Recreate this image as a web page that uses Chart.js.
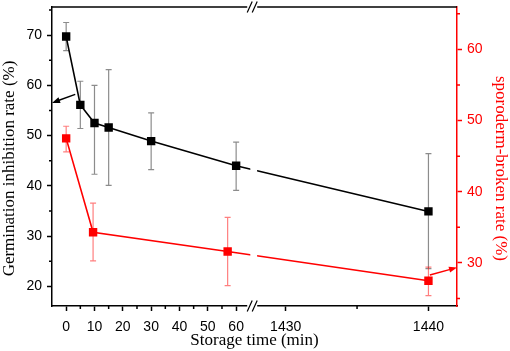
<!DOCTYPE html>
<html>
<head>
<meta charset="utf-8">
<script src="https://cdn.jsdelivr.net/npm/chart.js@4.4.0/dist/chart.umd.min.js"></script>
<style>
  html, body { margin: 0; padding: 0; background: #fff; }
  #wrap { width: 510px; height: 351px; }
</style>
</head>
<body>
<div id="wrap"><canvas id="chart"></canvas></div>
<script>
// Germination inhibition rate (%) vs storage time (min)
const timeGerm = [0, 5, 10, 15, 30, 60, 1440];
const germRate = [69.7, 56.1, 52.5, 51.6, 48.9, 44.0, 34.9];
const germHigh = [72.5, 60.8, 60.0, 63.1, 54.5, 48.7, 46.4];
const germLow  = [66.9, 51.4, 42.3, 40.1, 43.2, 39.1, 23.5];

// sporoderm-broken rate (%) vs storage time (min)
const timeBroken = [0, 9.5, 57, 1440];
const brokenRate = [47.5, 34.3, 31.6, 27.5];
const brokenHigh = [49.2, 38.4, 36.4, 29.4];
const brokenLow  = [45.6, 30.3, 26.8, 25.4];

// tick labels
const xTicks = [0, 10, 20, 30, 40, 50, 60, 1430, 1440];
const xMinorTicks = [5, 15, 25, 35, 45, 55, 1435];
const yTicks = [20, 30, 40, 50, 60, 70];
const yMinorTicks = [25, 35, 45, 55, 65, 75];
const y2Ticks = [30, 40, 50, 60];
const y2MinorTicks = [25, 35, 45, 55, 65];

// arrows pointing to the axis of each series [from, to] as (time, value)
const arrowGerm = [[3.2, 58.2], [-5, 56.5]];
const arrowBroken = [[1440.1, 28.3], [1442, 29.35]];

// broken x axis: -5..65 then 1428..1442 stretched
const seg1Min = -5, seg1Max = 65, seg2Min = 1428, seg2Max = 1442;
const breakGap = 2.4, seg2Stretch = 5.04;
function bx(t) {
    return t <= seg1Max ? t : seg1Max + breakGap + (t - seg2Min) * seg2Stretch;
}

const sansFont = "'Liberation Sans', Arial, sans-serif";
const serifFont = "'Liberation Serif', 'Times New Roman', serif";
const RED = '#ff0000';

function toPoints(xs, ys) {
    return xs.map((t, i) => ({ x: bx(t), y: ys[i] }));
}

function drawErrors(chart, xs, lo, hi, yScale, color) {
    const ctx = chart.ctx;
    const xScale = chart.scales.x;
    ctx.save();
    ctx.strokeStyle = color;
    ctx.lineWidth = 1.2;
    for (let i = 0; i < xs.length; i++) {
        const px = xScale.getPixelForValue(bx(xs[i]));
        const pt = yScale.getPixelForValue(hi[i]);
        const pb = yScale.getPixelForValue(lo[i]);
        ctx.beginPath();
        ctx.moveTo(px, pt); ctx.lineTo(px, pb);
        ctx.moveTo(px - 3, pt); ctx.lineTo(px + 3, pt);
        ctx.moveTo(px - 3, pb); ctx.lineTo(px + 3, pb);
        ctx.stroke();
    }
    ctx.restore();
}

function drawArrow(chart, arrow, yScale, color) {
    const ctx = chart.ctx;
    const xScale = chart.scales.x;
    const x1 = xScale.getPixelForValue(bx(arrow[0][0])), y1 = yScale.getPixelForValue(arrow[0][1]);
    const x2 = xScale.getPixelForValue(bx(arrow[1][0])), y2 = yScale.getPixelForValue(arrow[1][1]);
    const a = Math.atan2(y2 - y1, x2 - x1);
    ctx.save();
    ctx.strokeStyle = color; ctx.fillStyle = color; ctx.lineWidth = 1.5;
    ctx.beginPath();
    ctx.moveTo(x1, y1);
    ctx.lineTo(x2 - 6 * Math.cos(a), y2 - 6 * Math.sin(a));
    ctx.stroke();
    ctx.beginPath();
    ctx.moveTo(x2, y2);
    ctx.lineTo(x2 - 8 * Math.cos(a) + 3 * Math.sin(a), y2 - 8 * Math.sin(a) - 3 * Math.cos(a));
    ctx.lineTo(x2 - 8 * Math.cos(a) - 3 * Math.sin(a), y2 - 8 * Math.sin(a) + 3 * Math.cos(a));
    ctx.closePath();
    ctx.fill();
    ctx.restore();
}

const extras = {
    id: 'extras',
    beforeDatasetsDraw(chart) {
        drawErrors(chart, timeGerm, germLow, germHigh, chart.scales.y, 'rgba(0,0,0,0.45)');
        drawErrors(chart, timeBroken, brokenLow, brokenHigh, chart.scales.y2, 'rgba(255,0,0,0.5)');
    },
    afterDatasetsDraw(chart) {
        const { ctx, chartArea, scales } = chart;
        // gap in the lines at the axis break
        const g0 = scales.x.getPixelForValue(seg1Max);
        const g1 = scales.x.getPixelForValue(seg1Max + breakGap);
        ctx.save();
        ctx.fillStyle = '#fff';
        ctx.fillRect(g0, chartArea.top + 2, g1 - g0, chartArea.height - 4);
        ctx.restore();
        drawArrow(chart, arrowGerm, scales.y, '#000');
        drawArrow(chart, arrowBroken, scales.y2, RED);
    },
    afterDraw(chart) {
        const { ctx, chartArea, scales } = chart;
        const { left, right, top, bottom } = chartArea;
        ctx.save();
        // top frame line
        ctx.strokeStyle = '#000';
        ctx.lineWidth = 1.5;
        ctx.beginPath();
        ctx.moveTo(left, top); ctx.lineTo(right, top);
        ctx.stroke();

        // minor ticks
        ctx.lineWidth = 1.5;
        ctx.beginPath();
        xMinorTicks.forEach(t => {
            const px = scales.x.getPixelForValue(bx(t));
            ctx.moveTo(px, bottom); ctx.lineTo(px, bottom + 3);
        });
        yMinorTicks.forEach(v => {
            const py = scales.y.getPixelForValue(v);
            ctx.moveTo(left, py); ctx.lineTo(left - 3, py);
        });
        ctx.stroke();
        ctx.strokeStyle = RED;
        ctx.beginPath();
        y2MinorTicks.forEach(v => {
            const py = scales.y2.getPixelForValue(v);
            ctx.moveTo(right, py); ctx.lineTo(right + 3, py);
        });
        ctx.stroke();

        // break marks on bottom and top lines
        const cx = scales.x.getPixelForValue(seg1Max + breakGap / 2) - 1.5;
        [bottom, top].forEach(y => {
            ctx.fillStyle = '#fff';
            ctx.fillRect(cx - 5, y - 2, 10, 4);
            ctx.strokeStyle = '#000';
            ctx.lineWidth = 1.2;
            ctx.beginPath();
            [-2.5, 2.5].forEach(dx => {
                ctx.moveTo(cx + dx - 2.5, y + 5.5);
                ctx.lineTo(cx + dx + 2.5, y - 5.5);
            });
            ctx.stroke();
        });

        // y axis titles
        const midY = (top + bottom) / 2 + 12;
        ctx.font = '17px ' + serifFont;
        ctx.textAlign = 'center';
        ctx.textBaseline = 'middle';
        ctx.fillStyle = '#000';
        ctx.save();
        ctx.translate(10, midY);
        ctx.rotate(-Math.PI / 2);
        ctx.fillText('Germination inhibition rate (%)', 0, 0);
        ctx.restore();
        ctx.fillStyle = RED;
        ctx.save();
        ctx.translate(500, midY);
        ctx.rotate(Math.PI / 2);
        ctx.fillText('sporoderm-broken rate (%)', 0, 0);
        ctx.restore();
        ctx.restore();
    }
};

function fixWidth(w) {
    return function (scale) {
        scale.width = w;
        scale.paddingTop = 0;
        scale.paddingBottom = 0;
    };
}

new Chart(document.getElementById('chart'), {
    type: 'line',
    data: {
        datasets: [{
            label: 'Germination inhibition rate',
            data: toPoints(timeGerm, germRate),
            yAxisID: 'y',
            borderColor: '#000',
            backgroundColor: '#000',
            borderWidth: 1.6,
            pointStyle: 'rect',
            pointRadius: 4.8,
            tension: 0
        }, {
            label: 'sporoderm-broken rate',
            data: toPoints(timeBroken, brokenRate),
            yAxisID: 'y2',
            borderColor: RED,
            backgroundColor: RED,
            borderWidth: 1.6,
            pointStyle: 'rect',
            pointRadius: 4.8,
            tension: 0
        }]
    },
    options: {
        responsive: true,
        maintainAspectRatio: false,
        animation: false,
        layout: { padding: { top: 7, left: 0, right: 0, bottom: 0 } },
        plugins: { legend: { display: false }, tooltip: { enabled: false } },
        scales: {
            x: {
                type: 'linear',
                min: bx(seg1Min),
                max: bx(seg2Max),
                afterBuildTicks: scale => { scale.ticks = xTicks.map(t => ({ value: bx(t) })); },
                afterFit: scale => {
                    scale.height = 45;
                    scale.paddingLeft = 0;
                    scale.paddingRight = 0;
                },
                ticks: {
                    autoSkip: false,
                    maxRotation: 0,
                    padding: 8,
                    color: '#000',
                    font: { family: sansFont, size: 14 },
                    callback: (v, i) => String(xTicks[i])
                },
                grid: { drawOnChartArea: false, tickLength: 5, tickWidth: 1.5, tickColor: '#000' },
                border: { color: '#000', width: 1.5 },
                title: {
                    display: true,
                    text: 'Storage time (min)',
                    color: '#000',
                    font: { family: serifFont, size: 17 },
                    padding: { top: 0, bottom: 0 }
                }
            },
            y: {
                position: 'left',
                min: 16.08,
                max: 75.58,
                afterBuildTicks: scale => { scale.ticks = yTicks.map(v => ({ value: v })); },
                afterFit: fixWidth(52),
                ticks: { padding: 5, color: '#000', font: { family: sansFont, size: 14 } },
                grid: { drawOnChartArea: false, tickLength: 5, tickWidth: 1.5, tickColor: '#000' },
                border: { color: '#000', width: 1.5 }
            },
            y2: {
                position: 'right',
                min: 23.95,
                max: 65.95,
                afterBuildTicks: scale => { scale.ticks = y2Ticks.map(v => ({ value: v })); },
                afterFit: fixWidth(53),
                ticks: { padding: 5, color: RED, font: { family: sansFont, size: 14 } },
                grid: { drawOnChartArea: false, tickLength: 5, tickWidth: 1.5, tickColor: RED },
                border: { color: RED, width: 1.5 }
            }
        }
    },
    plugins: [extras]
});
</script>
</body>
</html>
